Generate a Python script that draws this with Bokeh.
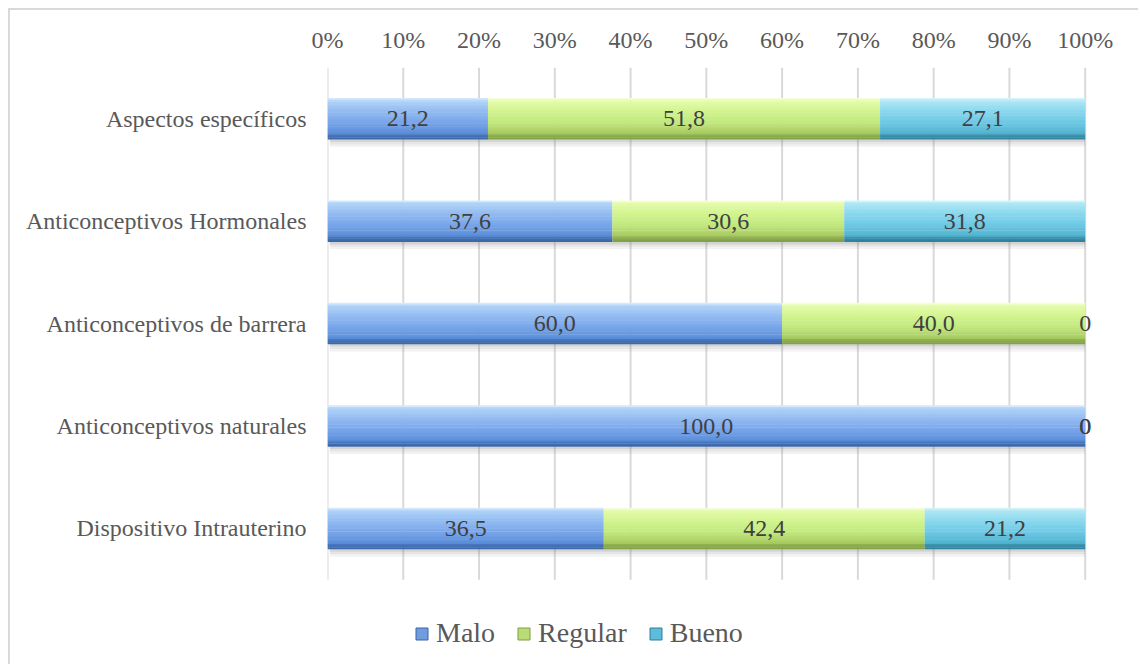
from bokeh.plotting import figure
from bokeh.models import (Range1d, FixedTicker, PrintfTickFormatter, ColumnDataSource,
                          LabelSet, Legend, LegendItem)
from bokeh.core.properties import value
from bokeh.embed import file_html
from bokeh.resources import INLINE

# ---------------- data ----------------
categories = ["Aspectos específicos", "Anticonceptivos Hormonales",
              "Anticonceptivos de barrera", "Anticonceptivos naturales",
              "Dispositivo Intrauterino"]
malo = [21.2, 37.6, 60.0, 100.0, 36.5]
regular = [51.8, 30.6, 40.0, 0.0, 42.4]
bueno = [27.1, 31.8, 0.0, 0.0, 21.2]
series_names = ["Malo", "Regular", "Bueno"]
x_ticks = [0, 10, 20, 30, 40, 50, 60, 70, 80, 90, 100]

# ---------------- styling ----------------
FONT = "Liberation Serif"
TEXT_GRAY = "#595959"
LABEL_DARK = "#404040"
BAR_H = 0.4
N_STRIPS = 26

gradients = {
    "Malo": [(0.0, "#e2f2fd"), (0.07, "#b0d3f8"), (0.3, "#95bdf2"), (0.6, "#78a5e9"),
             (0.86, "#5b8ed9"), (0.9, "#4877bd"), (1.0, "#3a64a2")],
    "Regular": [(0.0, "#fcffea"), (0.07, "#e4fbab"), (0.3, "#d3f591"), (0.6, "#c1e87f"),
                (0.86, "#a8ca61"), (0.9, "#90b250"), (1.0, "#7e9e44")],
    "Bueno": [(0.0, "#e2f7fc"), (0.07, "#afe7f4"), (0.3, "#8cd9ee"), (0.6, "#6ec8e4"),
              (0.86, "#52b4d1"), (0.9, "#3c96b2"), (1.0, "#2e7e98")],
}
legend_colors = {"Malo": "#6f9de0", "Regular": "#b9dc77", "Bueno": "#5cbcd9"}
legend_lines = {"Malo": "#3a64a2", "Regular": "#7e9e44", "Bueno": "#2e7e98"}


def hex2rgb(h):
    h = h.lstrip("#")
    return tuple(int(h[i:i + 2], 16) for i in (0, 2, 4))


def interp(stops, t):
    for (t0, c0), (t1, c1) in zip(stops[:-1], stops[1:]):
        if t0 <= t <= t1:
            f = 0 if t1 == t0 else (t - t0) / (t1 - t0)
            a, b = hex2rgb(c0), hex2rgb(c1)
            r = [round(a[j] + (b[j] - a[j]) * f) for j in range(3)]
            return "#%02x%02x%02x" % tuple(r)
    return stops[-1][1]


n = len(categories)
ypos = [n - 1 - i for i in range(n)]
series_vals = [malo, regular, bueno]
totals = [sum(v[i] for v in series_vals) for i in range(n)]

p = figure(width=1130, height=656, output_backend="svg", toolbar_location=None,
           x_range=Range1d(0, 104), y_range=Range1d(-1.24, n - 0.5),
           x_axis_location="above",
           min_border_left=317, min_border_right=25, min_border_top=57, min_border_bottom=11)
p.styles = {"margin-left": "8px", "margin-top": "8px",
            "border-left": "2px solid #d9d9d9", "border-top": "2px solid #d9d9d9"}
p.outline_line_color = None
p.background_fill_color = "white"
p.border_fill_color = "white"
p.xgrid.grid_line_color = None
p.ygrid.grid_line_color = None

# vertical gridlines over the category area only
p.segment(x0=x_ticks, y0=[-0.5] * len(x_ticks), x1=x_ticks, y1=[n - 0.5] * len(x_ticks),
          line_color="#d9d9d9", line_width=2)

# axes
xa = p.xaxis[0]
xa.ticker = FixedTicker(ticks=x_ticks)
xa.formatter = PrintfTickFormatter(format="%d%%")
xa.axis_line_color = None
xa.major_tick_line_color = None
xa.minor_tick_line_color = None
xa.major_label_text_font = FONT
xa.major_label_text_font_size = "24px"
xa.major_label_text_color = TEXT_GRAY
xa.major_label_standoff = 9

ya = p.yaxis[0]
ya.ticker = FixedTicker(ticks=ypos)
ya.major_label_overrides = {ypos[i]: categories[i] for i in range(n)}
ya.axis_line_color = None
ya.major_tick_line_color = None
ya.minor_tick_line_color = None
ya.major_label_text_font = FONT
ya.major_label_text_font_size = "24px"
ya.major_label_text_color = TEXT_GRAY
ya.major_label_standoff = 15

# shadow under bars
sh = dict(y=[], left=[], right=[], h=[], a=[])
for i in range(n):
    for k, al in enumerate([0.35, 0.2, 0.1]):
        sh["y"].append(ypos[i] - BAR_H / 2 - 0.012 - k * 0.024)
        sh["left"].append(0.3)
        sh["right"].append(100)
        sh["h"].append(0.025)
        sh["a"].append(al)
p.hbar(y="y", left="left", right="right", height="h", source=ColumnDataSource(sh),
       fill_color="#808080", fill_alpha="a", line_color=None)

# stacked gradient bars
lab = dict(x=[], y=[], text=[])
cum = [0.0] * n
legend_items = []
for s, name in enumerate(series_names):
    vals = series_vals[s]
    d = dict(y=[], left=[], right=[], h=[], c=[])
    for i in range(n):
        pct = vals[i] / totals[i] * 100
        left = cum[i]
        right = left + pct
        cum[i] = right
        if vals[i] > 0:
            for k in range(N_STRIPS):
                t = (k + 0.5) / N_STRIPS
                d["y"].append(ypos[i] + BAR_H / 2 - t * BAR_H)
                d["left"].append(left)
                d["right"].append(right)
                d["h"].append(BAR_H / N_STRIPS * 1.3)
                d["c"].append(interp(gradients[name], t))
            lab["x"].append((left + right) / 2)
            lab["text"].append(("%.1f" % vals[i]).replace(".", ","))
        else:
            lab["x"].append(left)
            lab["text"].append("0")
        lab["y"].append(ypos[i])
    p.hbar(y="y", left="left", right="right", height="h", source=ColumnDataSource(d),
           fill_color="c", line_color=None)
    # legend-only glyph with no drawable data
    dummy = p.hbar(y=[float("nan")], left=[float("nan")], right=[float("nan")], height=0.1,
                   fill_color=legend_colors[name], line_color=legend_lines[name],
                   line_width=1)
    legend_items.append(LegendItem(label=name, renderers=[dummy]))

labels = LabelSet(x="x", y="y", text="text", source=ColumnDataSource(lab),
                  text_align="center", text_baseline="middle",
                  text_font=value(FONT), text_font_size="24px", text_color=LABEL_DARK)
p.add_layout(labels)

legend = Legend(items=legend_items, orientation="horizontal", location=(87, 6),
                glyph_width=15, glyph_height=15, label_standoff=7, spacing=21,
                padding=0, margin=0, border_line_color=None, background_fill_alpha=0,
                label_text_font=FONT, label_text_font_size="28px",
                label_text_color=TEXT_GRAY)
p.add_layout(legend, "center")

open("out.html", "w").write(file_html(p, INLINE))
